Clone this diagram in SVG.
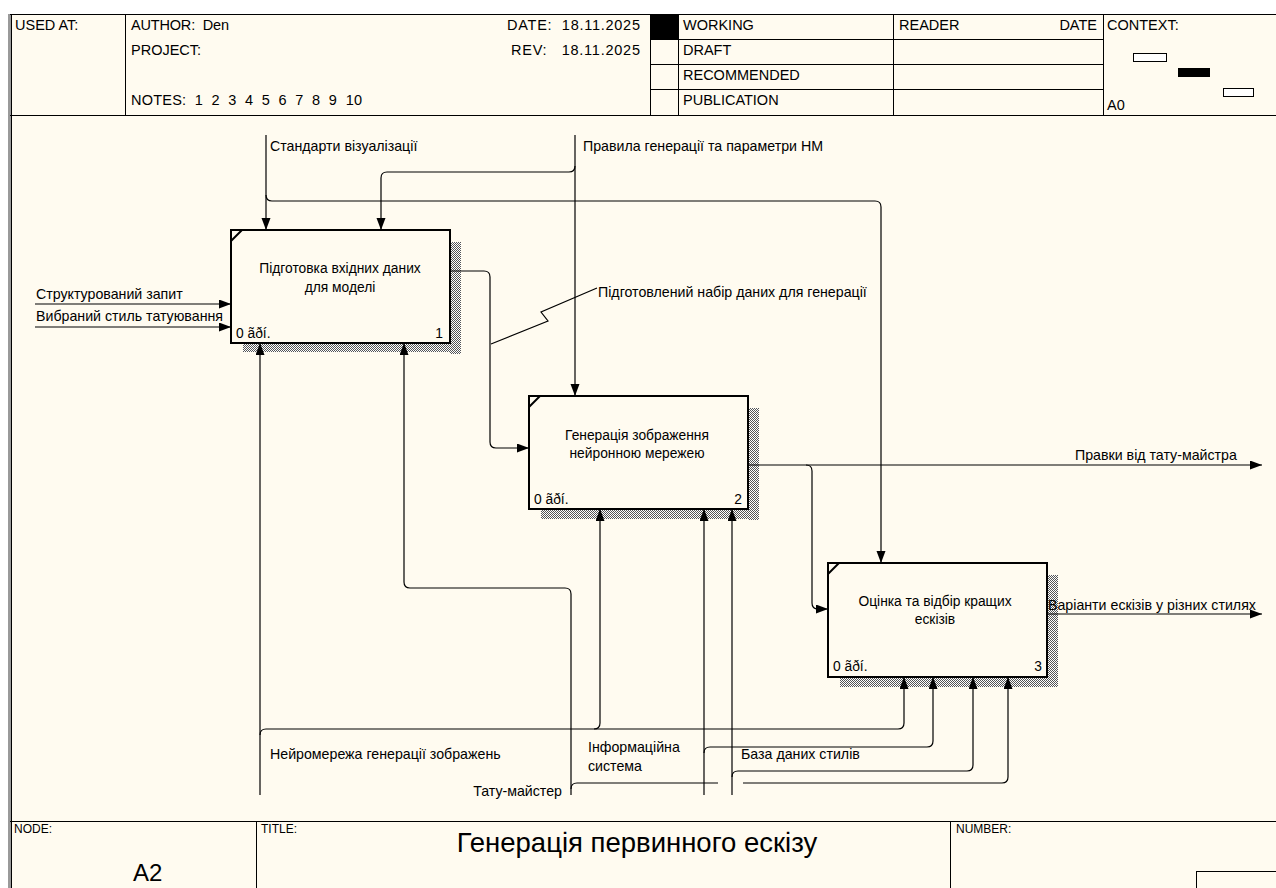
<svg xmlns="http://www.w3.org/2000/svg" width="1276" height="888" viewBox="0 0 1276 888">
  <defs>
    <pattern id="hatch" width="2" height="2" patternUnits="userSpaceOnUse">
      <rect width="2" height="2" fill="#ffffff"/>
      <rect x="0" y="0" width="1" height="1" fill="#555555"/>
      <rect x="1" y="1" width="1" height="1" fill="#555555"/>
    </pattern>
    <marker id="arr" markerUnits="userSpaceOnUse" markerWidth="13" markerHeight="10" refX="12" refY="4.5" orient="auto">
      <path d="M0,0 L12,4.5 L0,9 z" fill="#000"/>
    </marker>
    <style>
      text { font-family: "Liberation Sans", Arial, sans-serif; fill: #000; white-space: pre; }
      .hdr { font-size: 14.5px; }
      .lbl { font-size: 14.2px; }
      .btx { font-size: 13.8px; }
      .box { fill: #fffbf0; stroke: #000; stroke-width: 2; }
      .shadow { fill: url(#hatch); }
      .frame { stroke: #000; stroke-width: 1; fill: none; }
      .con { stroke: #000; stroke-width: 1.2; fill: none; }
      .arw { marker-end: url(#arr); }
      .small { font-size: 12px; }
    </style>
  </defs>

  <!-- page -->
  <rect width="1276" height="888" fill="#ffffff"/>
  <rect x="10" y="14" width="1266" height="874" fill="#fffbf0"/>
  <rect x="8" y="14" width="3" height="874" fill="#9a9a9a"/>
  <line x1="11.5" y1="14" x2="11.5" y2="888" stroke="#000" stroke-width="1"/>

  <!-- header -->
  <g id="header">
    <line class="frame" x1="10" y1="14.5" x2="1276" y2="14.5"/>
    <line class="frame" x1="10" y1="115.5" x2="1276" y2="115.5"/>
    <line class="frame" x1="125.5" y1="14" x2="125.5" y2="115"/>
    <line class="frame" x1="650.5" y1="14" x2="650.5" y2="115"/>
    <line class="frame" x1="678.5" y1="14" x2="678.5" y2="115"/>
    <line class="frame" x1="893.5" y1="14" x2="893.5" y2="115"/>
    <line class="frame" x1="1103.5" y1="14" x2="1103.5" y2="115"/>
    <line class="frame" x1="650" y1="39.5" x2="1103" y2="39.5"/>
    <line class="frame" x1="650" y1="64.5" x2="1103" y2="64.5"/>
    <line class="frame" x1="650" y1="89.5" x2="1103" y2="89.5"/>
    <rect x="651" y="15" width="27" height="24" fill="#000"/>
    <text class="hdr" x="15" y="30">USED AT:</text>
    <text class="hdr" x="131" y="30" textLength="98">AUTHOR:  Den</text>
    <text class="hdr" x="131" y="55">PROJECT:</text>
    <text class="hdr" x="131" y="105" textLength="231">NOTES:  1  2  3  4  5  6  7  8  9  10</text>
    <text class="hdr" x="507" y="30" textLength="133">DATE:  18.11.2025</text>
    <text class="hdr" x="511" y="55" textLength="129">REV:   18.11.2025</text>
    <text class="hdr" x="683" y="30">WORKING</text>
    <text class="hdr" x="683" y="55">DRAFT</text>
    <text class="hdr" x="683" y="80">RECOMMENDED</text>
    <text class="hdr" x="683" y="105">PUBLICATION</text>
    <text class="hdr" x="899" y="30">READER</text>
    <text class="hdr" x="1097" y="30" text-anchor="end">DATE</text>
    <text class="hdr" x="1107" y="30">CONTEXT:</text>
    <rect x="1133.5" y="53.5" width="33" height="8" fill="#fff" stroke="#000"/>
    <rect x="1178" y="68" width="32" height="9" fill="#000"/>
    <rect x="1223.5" y="88.5" width="30" height="8" fill="#fff" stroke="#000"/>
    <text class="hdr" x="1107" y="110">A0</text>
  </g>

  <!-- activity boxes -->
  <g id="box1">
    <rect class="shadow" x="450" y="242" width="11" height="112"/>
    <rect class="shadow" x="243" y="343" width="218" height="9"/>
    <rect class="box" x="231" y="230" width="219" height="113"/>
    <line x1="231" y1="241" x2="242" y2="230" stroke="#000" stroke-width="2"/>
    <text class="btx" x="340" y="273" text-anchor="middle">Підготовка вхідних даних</text>
    <text class="btx" x="340" y="292" text-anchor="middle">для моделі</text>
    <text class="btx" x="236" y="338">0 ãðí.</text>
    <text class="btx" x="443" y="338" text-anchor="end">1</text>
  </g>

  <g id="box2">
    <rect class="shadow" x="748" y="408" width="11" height="112"/>
    <rect class="shadow" x="541" y="509" width="218" height="10"/>
    <rect class="box" x="529" y="396" width="219" height="113"/>
    <line x1="529" y1="407" x2="540" y2="396" stroke="#000" stroke-width="2"/>
    <text class="btx" x="637" y="440" text-anchor="middle">Генерація зображення</text>
    <text class="btx" x="637" y="458" text-anchor="middle">нейронною мережею</text>
    <text class="btx" x="534" y="504">0 ãðí.</text>
    <text class="btx" x="742" y="504" text-anchor="end">2</text>
  </g>

  <g id="box3">
    <rect class="shadow" x="1047" y="575" width="11" height="112"/>
    <rect class="shadow" x="840" y="677" width="218" height="10"/>
    <rect class="box" x="828" y="563" width="219" height="114"/>
    <line x1="828" y1="574" x2="839" y2="563" stroke="#000" stroke-width="2"/>
    <text class="btx" x="935" y="606" text-anchor="middle">Оцінка та відбір кращих</text>
    <text class="btx" x="935" y="624" text-anchor="middle">ескізів</text>
    <text class="btx" x="833" y="671">0 ãðí.</text>
    <text class="btx" x="1042" y="671" text-anchor="end">3</text>
  </g>

  <!-- arrows -->
  <g id="connectors">
    <!-- inputs -->
    <path class="con arw" d="M35,304 H231"/>
    <path class="con arw" d="M35,327 H231"/>
    <!-- controls -->
    <path class="con arw" d="M266,135 V230"/>
    <path class="con arw" d="M266,195 Q266,201 272,201 H875 Q881,201 881,207 V563"/>
    <path class="con arw" d="M575,135 V396"/>
    <path class="con arw" d="M575,166 Q575,172 569,172 H387 Q381,172 381,178 V230"/>
    <!-- box 1 output into box 2 -->
    <path class="con arw" d="M450,271 H484 Q490,271 490,277 V442 Q490,448 496,448 H529"/>
    <path class="con" d="M491,344 L548,321 L541,312 L597,288"/>
    <!-- box 2 outputs -->
    <path class="con arw" d="M748,465 H1262"/>
    <path class="con arw" d="M806,465 Q812,465 812,471 V603 Q812,609 818,609 H828"/>
    <!-- box 3 output -->
    <path class="con arw" d="M1047,614 H1262"/>
    <!-- mechanisms -->
    <path class="con arw" d="M260,795 V343"/>
    <path class="con arw" d="M260,735 Q260,729 266,729 H898 Q904,729 904,723 V677"/>
    <path class="con arw" d="M594,729 Q600,729 600,723 V509"/>
    <path class="con arw" d="M571,795 V594 Q571,588 565,588 H410 Q404,588 404,582 V343"/>
    <path class="con" d="M571,789 Q571,783 577,783 H718"/>
    <path class="con arw" d="M743,783 H1002 Q1008,783 1008,777 V677"/>
    <path class="con arw" d="M704,795 V509"/>
    <path class="con arw" d="M704,753 Q704,747 710,747 H927 Q933,747 933,741 V677"/>
    <path class="con arw" d="M732,795 V509"/>
    <path class="con arw" d="M732,777 Q732,771 738,771 H967 Q973,771 973,765 V677"/>
  </g>

  <!-- arrow labels -->
  <g id="labels">
    <text class="lbl" x="36" y="299">Структурований запит</text>
    <text class="lbl" x="36" y="321">Вибраний стиль татуювання</text>
    <text class="lbl" x="270" y="151">Стандарти візуалізації</text>
    <text class="lbl" x="583" y="151">Правила генерації та параметри НМ</text>
    <text class="lbl" x="598" y="297">Підготовлений набір даних для генерації</text>
    <text class="lbl" x="1075" y="460">Правки від тату-майстра</text>
    <text class="lbl" x="1048" y="610">Варіанти ескізів у різних стилях</text>
    <text class="lbl" x="270" y="759">Нейромережа генерації зображень</text>
    <text class="lbl" x="588" y="752">Інформаційна</text>
    <text class="lbl" x="588" y="771">система</text>
    <text class="lbl" x="741" y="759">База даних стилів</text>
    <text class="lbl" x="562" y="796" text-anchor="end">Тату-майстер</text>
  </g>

  <!-- footer -->
  <g id="footer">
    <line class="frame" x1="10" y1="821.5" x2="1276" y2="821.5"/>
    <line class="frame" x1="256.5" y1="821" x2="256.5" y2="888"/>
    <line class="frame" x1="950.5" y1="821" x2="950.5" y2="888"/>
    <rect x="1196.5" y="871.5" width="90" height="30" fill="none" stroke="#000"/>
    <text class="small" x="14" y="833">NODE:</text>
    <text x="133" y="881" font-size="24">A2</text>
    <text class="small" x="261" y="833">TITLE:</text>
    <text x="637" y="852" font-size="27.5" text-anchor="middle">Генерація первинного ескізу</text>
    <text class="small" x="956" y="833">NUMBER:</text>
  </g>
</svg>
